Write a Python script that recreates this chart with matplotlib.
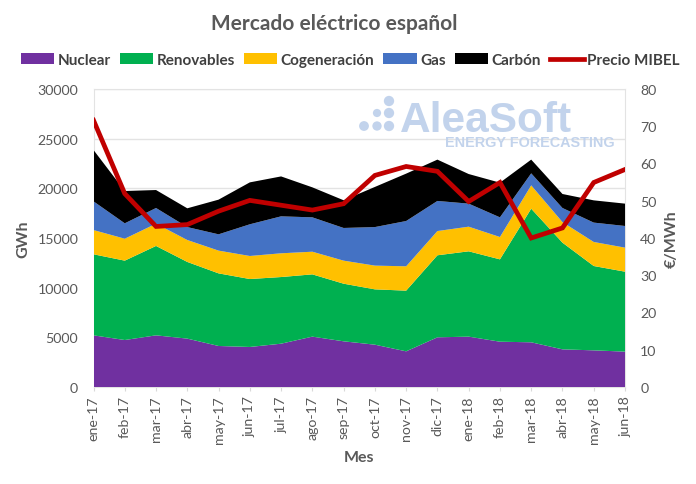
import matplotlib
matplotlib.use("Agg")
import matplotlib.pyplot as plt

plt.rcParams['font.family'] = ['Lato', 'DejaVu Sans']

meses = ['ene-17', 'feb-17', 'mar-17', 'abr-17', 'may-17', 'jun-17', 'jul-17', 'ago-17', 'sep-17',
         'oct-17', 'nov-17', 'dic-17', 'ene-18', 'feb-18', 'mar-18', 'abr-18', 'may-18', 'jun-18']

nuclear = [5200, 4730, 5200, 4870, 4130, 4030, 4360, 5070, 4600, 4260, 3590, 5000, 5070, 4560, 4500, 3790, 3690, 3560]
renovables = [8160, 7990, 9000, 7720, 7310, 6840, 6710, 6270, 5800, 5570, 6110, 8260, 8590, 8290, 13450, 10740, 8490, 8050]
cogeneracion = [2440, 2210, 2240, 2210, 2290, 2320, 2390, 2280, 2320, 2390, 2450, 2440, 2480, 2250, 2350, 2070, 2420, 2420]
gas = [2890, 1550, 1580, 1300, 1640, 3190, 3720, 3460, 3290, 3880, 4560, 3030, 2320, 1980, 1210, 1420, 1950, 2180]
carbon = [5170, 3250, 1810, 1890, 3490, 4220, 4020, 3020, 2790, 4040, 4770, 4160, 2980, 3490, 1380, 1410, 2240, 2250]
precio = [71.6, 51.9, 43.1, 43.6, 47.2, 50.1, 48.8, 47.5, 49.2, 56.8, 59.2, 57.9, 49.8, 54.9, 40.0, 42.7, 54.9, 58.4]

nombres = ['Nuclear', 'Renovables', 'Cogeneración', 'Gas', 'Carbón']
colores = ['#7030A0', '#00B050', '#FFC000', '#4472C4', '#000000']
gris = '#595959'
x = list(range(len(meses)))

fig = plt.figure(figsize=(6.96, 4.85), dpi=100)
ax = fig.add_axes([93.5/696, 1 - 388/485, 531.5/696, 298/485])

ax.stackplot(x, nuclear, renovables, cogeneracion, gas, carbon, colors=colores, labels=nombres, zorder=3)
ax.set_xlim(0, 17)
ax.set_ylim(0, 30000)
ax.set_yticks(range(0, 30001, 5000))
ax.set_xticks(x)
ax.set_xticklabels(meses, rotation=90)
ax.grid(axis='y', color='#E3E3E3', lw=1, zorder=0)
ax.set_axisbelow(True)
ax.tick_params(axis='y', length=0, labelsize=10.2, labelcolor=gris, pad=11)
ax.tick_params(axis='x', length=3, color='#D9D9D9', labelsize=10.2, labelcolor=gris, pad=3)
for s in ax.spines.values():
    s.set_color('#E3E3E3')
ax.set_xlabel('Mes', fontsize=11.5, fontweight='bold', color=gris, labelpad=5)
ax.set_ylabel('GWh', fontsize=11.5, fontweight='bold', color=gris, labelpad=5)

ax2 = ax.twinx()
ax2.plot(x, precio, color='#C00000', lw=3.4, label='Precio MIBEL', solid_joinstyle='miter', zorder=5)
ax2.set_ylim(0, 80)
ax2.set_yticks(range(0, 81, 10))
ax2.tick_params(axis='y', length=0, labelsize=10.2, labelcolor=gris, pad=11)
for s in ax2.spines.values():
    s.set_visible(False)
ax2.set_ylabel('€/MWh', fontsize=11.5, fontweight='bold', color=gris, labelpad=6)

# marca de agua
azul = '#C2D3EC'
fig.text(400/696, 1 - 132/485, 'AleaSoft', fontsize=30.5, fontweight='bold', color=azul,
         family=['Liberation Sans'], va='baseline', zorder=10)
fig.text(445/696, 1 - 147/485, 'ENERGY FORECASTING', fontsize=10.4, fontweight='bold', color=azul,
         family=['Liberation Sans'], va='baseline', zorder=10)
px = [364, 377, 377, 389, 389, 389]
py = [127, 127, 114, 127, 114, 102]
ax_marca = fig.add_axes([0, 0, 1, 1], facecolor='none')
ax_marca.set_xlim(0, 696)
ax_marca.set_ylim(485, 0)
ax_marca.axis('off')
ax_marca.scatter(px, py, s=[50, 45, 35, 55, 55, 55], color=azul, lw=0)

fig.text(334/696, 1 - 24/485, 'Mercado eléctrico español', ha='center', va='center',
         fontsize=15, fontweight='bold', color=gris)

h1, l1 = ax.get_legend_handles_labels()
h2, l2 = ax2.get_legend_handles_labels()
fig.legend(h1 + h2, l1 + l2, loc='center', bbox_to_anchor=(350/696, 1 - 61/485), ncol=6, frameon=False,
           prop={'family': ['Lato'], 'weight': 'bold', 'size': 11}, labelcolor='#404040',
           handlelength=2.2, handletextpad=0.2, columnspacing=0.6)

fig.savefig('out.png', dpi=100)
